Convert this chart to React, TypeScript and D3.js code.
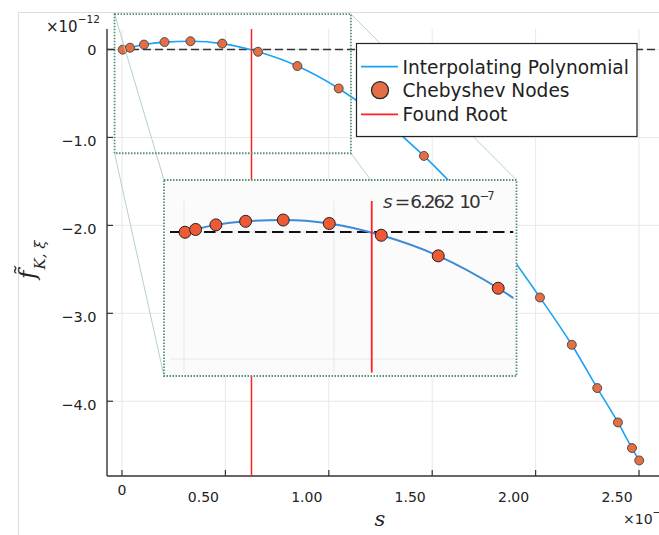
import React from 'react';
import * as d3 from 'd3';

// Chebyshev nodes (s in units of 1e-6, f in units of 1e-12)
const nodeS = [0.0034, 0.0387, 0.1064, 0.2055, 0.331, 0.4845, 0.658, 0.848, 1.048, 1.46, 1.659, 1.847, 2.021, 2.175, 2.298, 2.398, 2.466, 2.501];
const nodeF = [-0.002, 0.02, 0.056, 0.084, 0.094, 0.067, -0.026, -0.188, -0.443, -1.21, -1.698, -2.247, -2.82, -3.358, -3.85, -4.241, -4.532, -4.673];
const rootS = 0.6262;
const xTicks = [0, 0.5, 1.0, 1.5, 2.0, 2.5];
const xTickLabels = ['0', '0.50', '1.00', '1.50', '2.00', '2.50'];
const yTicks = [0, -1, -2, -3, -4];
const yTickLabels = ['0', '\u22121.0', '\u22122.0', '\u22123.0', '\u22124.0'];
const insetXGrid = [0, 0.5];
const insetYGrid = [0, -1];
const lensS = [-0.036, 1.107];
const lensF = [0.403, -1.18];
const legendLabels = ['Interpolating Polynomial', 'Chebyshev Nodes', 'Found Root'];
const rootText = '6.262';

const BLUE = '#1aa2f6';
const ORANGE = '#e36f47';
const INSET_ORANGE = '#ef5a36';
const INSET_BLUE = '#3d8ad8';
const RED = '#f22';
const GRID = '#e8e8e8';
const LENS = '#55917a';
const FONT = 'DejaVu Sans';

export default function App() {
  const W = 659, H = 535;
  const x = d3.scaleLinear().domain([-0.0725, 2.6]).range([107, 659.7]);
  const y = d3.scaleLinear().domain([-4.85, 0.233]).range([476, 29]);
  const ix = d3.scaleLinear().domain([-0.0467, 1.099]).range([170, 513.5]);
  const iy = d3.scaleLinear().domain([0.244, -1.108]).range([201, 372.7]);
  const [px0, px1] = x.range();
  const [py0, py1] = [y.range()[1], y.range()[0]]; // top, bottom
  const [ipx0, ipx1] = ix.range();
  const [ipy0, ipy1] = iy.range();
  const box = { x0: 164, y0: 180, x1: 516.5, y1: 376 };

  const pts: [number, number][] = nodeS.map((s, i) => [s, nodeF[i]]);
  const line = d3.line<[number, number]>().x(d => x(d[0])).y(d => y(d[1])).curve(d3.curveMonotoneX);
  const iline = d3.line<[number, number]>().x(d => ix(d[0])).y(d => iy(d[1])).curve(d3.curveMonotoneX);

  const lx0 = x(lensS[0]), lx1 = x(lensS[1]), ly0 = y(lensF[0]), ly1 = y(lensF[1]);

  const legX = 356.5, legY = 43.5, legW = 280.5, legH = 93;
  const rowY = [66.7, 90.2, 114.3];

  return (
    <svg width={W} height={H} style={{ position: 'absolute', left: 0, top: 0, background: '#fff' }} fontFamily={FONT}>
      <defs>
        <clipPath id="mainClip"><rect x={px0} y={py0} width={px1 - px0} height={py1 - py0} /></clipPath>
        <clipPath id="insetClip"><rect x={ipx0} y={ipy0} width={ipx1 - ipx0} height={ipy1 - ipy0} /></clipPath>
      </defs>
      {/* faint figure frame */}
      <line x1={18.5} x2={18.5} y1={12.5} y2={H} stroke="#dedede" />
      <line x1={18.5} x2={W} y1={12.5} y2={12.5} stroke="#dedede" />

      {/* grid */}
      {xTicks.map((t, i) => (
        <line key={'gx' + i} x1={x(t)} x2={x(t)} y1={py0} y2={py1} stroke={GRID} />
      ))}
      {yTicks.map((t, i) => (
        <line key={'gy' + i} x1={px0} x2={px1} y1={y(t)} y2={y(t)} stroke={GRID} />
      ))}

      {/* axes */}
      <line x1={px0} x2={px0} y1={py0} y2={py1} stroke="#333" strokeWidth={1.4} />
      <line x1={px0} x2={W} y1={py1} y2={py1} stroke="#333" strokeWidth={1.4} />
      {xTicks.map((t, i) => (
        <g key={'xt' + i}>
          <line x1={x(t)} x2={x(t)} y1={py1} y2={py1 - 6} stroke="#333" strokeWidth={1.2} />
          <text x={t === 0 ? x(t) : x(t) - 22} y={t === 0 ? 495 : 501.7} fontSize={14} textAnchor="middle" fill="#222">{xTickLabels[i]}</text>
        </g>
      ))}
      {yTicks.map((t, i) => (
        <g key={'yt' + i}>
          <line x1={px0} x2={px0 + 6} y1={y(t)} y2={y(t)} stroke="#333" strokeWidth={1.2} />
          <text x={96.5} y={y(t) + (t === 0 ? 5.5 : 8.5)} fontSize={14.5} textAnchor="end" fill="#222">{yTickLabels[i]}</text>
        </g>
      ))}
      <text x={46} y={31.5} fontSize={15} fill="#222">{'\u00d710'}<tspan fontSize={10.5} dy={-9}>{'\u221212'}</tspan></text>
      <text x={623} y={523.5} fontSize={14} fill="#222">{'\u00d710'}<tspan fontSize={10.5} dy={-8}>{'\u22126'}</tspan></text>

      {/* axis labels */}
      <text x={380} y={526} fontSize={21} fontFamily="DejaVu Serif" fontStyle="italic" textAnchor="middle" fill="#222">s</text>
      <text transform="translate(35,279) rotate(-90)" fontFamily="DejaVu Serif" fontStyle="italic" fill="#222">
        <tspan fontSize={23}>{'f\u0303'}</tspan>
        <tspan fontSize={15} dy={10} dx={1}>{'K, \u03be'}</tspan>
      </text>

      {/* main series */}
      <g clipPath="url(#mainClip)">
        <line x1={px0} x2={px1} y1={y(0)} y2={y(0)} stroke="#333" strokeWidth={1.5} strokeDasharray="8 4" />
        <path d={line(pts) || ''} fill="none" stroke={BLUE} strokeWidth={1.6} />
        {pts.map((p, i) => (
          <circle key={'m' + i} cx={x(p[0])} cy={y(p[1])} r={4.5} fill={ORANGE} stroke="#333" strokeWidth={0.8} />
        ))}
        <line x1={x(rootS)} x2={x(rootS)} y1={py0} y2={py1} stroke={RED} strokeWidth={1.5} />
      </g>

      {/* lens */}
      <line x1={lx0} y1={ly0} x2={box.x0} y2={box.y0} stroke="#b8d2c5" strokeWidth={1} />
      <line x1={lx1} y1={ly0} x2={box.x1} y2={box.y0} stroke="#b8d2c5" strokeWidth={1} />
      <line x1={lx0} y1={ly1} x2={box.x0} y2={box.y1} stroke="#b8d2c5" strokeWidth={1} />
      <line x1={lx1} y1={ly1} x2={box.x1} y2={box.y1} stroke="#b8d2c5" strokeWidth={1} />
      <rect x={lx0} y={ly0} width={lx1 - lx0} height={ly1 - ly0} fill="none" stroke={LENS} strokeWidth={1.8} strokeDasharray="1.5 1.5" />

      {/* inset */}
      <rect x={box.x0} y={box.y0} width={box.x1 - box.x0} height={box.y1 - box.y0} fill="#fcfbfb" />
      {insetXGrid.map((t, i) => (
        <line key={'igx' + i} x1={ix(t)} x2={ix(t)} y1={ipy0} y2={ipy1} stroke="#e9e6e6" />
      ))}
      {insetYGrid.map((t, i) => (
        <line key={'igy' + i} x1={ipx0} x2={ipx1} y1={iy(t)} y2={iy(t)} stroke="#e9e6e6" />
      ))}
      <g clipPath="url(#insetClip)">
        <line x1={ipx0} x2={ipx1} y1={iy(0)} y2={iy(0)} stroke="#111" strokeWidth={2.2} strokeDasharray="11.5 5.5" />
        <path d={iline(pts) || ''} fill="none" stroke={INSET_BLUE} strokeWidth={2} />
        <line x1={ix(rootS)} x2={ix(rootS)} y1={ipy0} y2={ipy1} stroke={RED} strokeWidth={1.8} />
      </g>
      {pts.filter(p => ix(p[0]) < ipx1).map((p, i) => (
        <circle key={'im' + i} cx={ix(p[0])} cy={iy(p[1])} r={6} fill={INSET_ORANGE} stroke="#222" strokeWidth={1} />
      ))}
      <text x={383} y={207.7} fontSize={18.5} fill="#333" letterSpacing={-2}>
        <tspan fontStyle="italic">s</tspan>
        <tspan dx={4}>=</tspan>
        <tspan dx={2}>{rootText}</tspan>
        <tspan dx={6}>10</tspan>
        <tspan fontSize={11.5} dy={-7.5} dx={1}>{'\u22127'}</tspan>
      </text>
      <rect x={box.x0} y={box.y0} width={box.x1 - box.x0} height={box.y1 - box.y0} fill="none" stroke={LENS} strokeWidth={1.8} strokeDasharray="1.5 1.5" />

      {/* legend */}
      <rect x={legX} y={legY} width={legW} height={legH} fill="#fff" stroke="#222" strokeWidth={1.2} />
      <line x1={361} x2={398} y1={rowY[0]} y2={rowY[0]} stroke={BLUE} strokeWidth={1.8} />
      <circle cx={380} cy={rowY[1]} r={8.5} fill={ORANGE} stroke="#222" strokeWidth={1.2} />
      <line x1={361} x2={398} y1={rowY[2]} y2={rowY[2]} stroke={RED} strokeWidth={1.8} />
      {legendLabels.map((l, i) => (
        <text key={'lg' + i} x={402.5} y={rowY[i] + 6.8} fontSize={18.6} fill="#222">{l}</text>
      ))}
    </svg>
  );
}
